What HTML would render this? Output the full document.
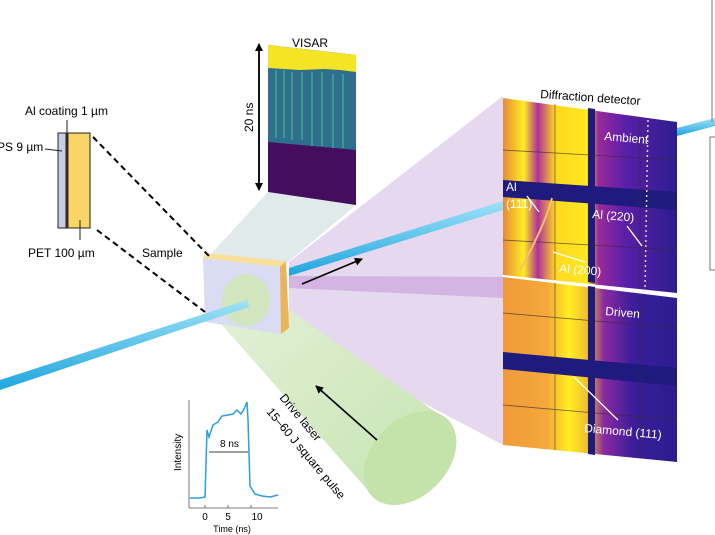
<!DOCTYPE html>
<html><head><meta charset="utf-8"><style>
html,body{margin:0;padding:0;background:#fff}
svg{display:block}
text{font-family:"Liberation Sans",sans-serif}
</style></head><body>
<svg width="715" height="535" viewBox="0 0 715 535" xmlns="http://www.w3.org/2000/svg">
<defs>
<linearGradient id="cyl" x1="0" y1="0" x2="1" y2="1"><stop offset="0" stop-color="#e3f1d8"/><stop offset="1" stop-color="#c6e3b0"/></linearGradient>
<linearGradient id="pA" x1="0" y1="0" x2="1" y2="0">
<stop offset="0" stop-color="#e58a3a"/><stop offset="0.12" stop-color="#ffee20"/><stop offset="0.2" stop-color="#b0309a"/><stop offset="0.3" stop-color="#ffd820"/><stop offset="0.48" stop-color="#ffe820"/><stop offset="0.55" stop-color="#9a2a9a"/><stop offset="0.7" stop-color="#5a1fa8"/><stop offset="1" stop-color="#2b1d8f"/></linearGradient>
<linearGradient id="pB" x1="0" y1="0" x2="1" y2="0">
<stop offset="0" stop-color="#f09a3a"/><stop offset="0.25" stop-color="#f4a83a"/><stop offset="0.38" stop-color="#ffee20"/><stop offset="0.48" stop-color="#f0c030"/><stop offset="0.58" stop-color="#8a2aa0"/><stop offset="0.75" stop-color="#3a1d9a"/><stop offset="1" stop-color="#2b1d8f"/></linearGradient>
<linearGradient id="beam" x1="0" y1="0" x2="0" y2="1"><stop offset="0" stop-color="#9fe2f7"/><stop offset="1" stop-color="#1ea6de"/></linearGradient>
<marker id="ah" markerWidth="8" markerHeight="8" refX="7" refY="4" orient="auto" markerUnits="userSpaceOnUse"><path d="M0,0 L8,4 L0,8z" fill="#000"/></marker>
</defs>

<polygon points="268,192 356,205 288,262 210,255" fill="#dbe6e6" opacity="0.85"/>
<polygon points="289,262 503,96 503,445 289,332" fill="#e6d8ee"/>
<polygon points="289,276 503,277 503,298 289,288" fill="#d4b4e2"/>

<polygon points="258,288 447,420 373,496 222,325" fill="url(#cyl)"/>
<ellipse cx="410" cy="458" rx="38" ry="54" transform="rotate(44 410 458)" fill="#c4e3ab"/>
<polygon points="203,258 280,267 281,334 205,322" fill="#d9dcf2"/>
<ellipse cx="246" cy="300" rx="24" ry="26" fill="#cfe6b8" opacity="0.9"/>
<polygon points="0,380 247,300 249,307 0,390" fill="url(#beam)"/>
<polygon points="203,258 205,253 286,261 280,267" fill="#f8e09a"/>
<polygon points="280,267 286,261 289,328 281,334" fill="#e9b45a"/>
<polygon points="289,268 503,201 503,210 289,276" fill="url(#beam)"/>
<polygon points="677,128 715,118 715,126 677,136" fill="url(#beam)"/>
<line x1="302" y1="284" x2="362" y2="259" stroke="#000" stroke-width="1.6" marker-end="url(#ah)"/>
<line x1="377" y1="440" x2="316" y2="386" stroke="#000" stroke-width="1.6" marker-end="url(#ah)"/>

<polygon points="268,45 356,55 356,205 268,192" fill="#440d5e"/>
<polygon points="268,60 356,66 356,150 268,142" fill="#2f6f8e"/>
<g stroke="#3fae8c" stroke-width="2" opacity="0.7">
<line x1="276" y1="70" x2="276" y2="138"/><line x1="284" y1="70" x2="284" y2="138"/><line x1="292" y1="72" x2="292" y2="140"/><line x1="302" y1="72" x2="302" y2="140"/><line x1="312" y1="72" x2="312" y2="146"/><line x1="322" y1="72" x2="322" y2="146"/><line x1="333" y1="74" x2="333" y2="148"/><line x1="343" y1="74" x2="343" y2="148"/></g>
<polygon points="268,45 356,55 356,72 340,70 325,69 300,70 268,68" fill="#f4e424"/>
<line x1="259" y1="46" x2="259" y2="190" stroke="#000" stroke-width="1.6" marker-end="url(#ah)"/>
<line x1="259" y1="188" x2="259" y2="44" stroke="#000" stroke-width="1.6" marker-end="url(#ah)"/>
<text x="292" y="47" font-size="12">VISAR</text>
<text transform="translate(253,132) rotate(-90)" font-size="12">20 ns</text>

<rect x="58" y="133" width="32" height="95" fill="#f9d466" stroke="#222" stroke-width="1"/>
<rect x="58" y="133" width="8" height="95" fill="#c9cbe8" stroke="#222" stroke-width="1"/>
<rect x="66" y="133" width="2.5" height="95" fill="#3a2a1a"/>
<line x1="67" y1="120" x2="67" y2="143" stroke="#222"/>
<line x1="45" y1="149" x2="62" y2="151" stroke="#222"/>
<line x1="80" y1="220" x2="80" y2="240" stroke="#222"/>
<text x="25" y="115" font-size="12">Al coating 1 µm</text>
<text x="-3" y="151" font-size="12">PS 9 µm</text>
<text x="28" y="257" font-size="12">PET 100 µm</text>
<text x="142" y="257" font-size="12">Sample</text>
<line x1="93" y1="137" x2="210" y2="257" stroke="#000" stroke-width="2" stroke-dasharray="6,4"/>
<line x1="97" y1="230" x2="205" y2="312" stroke="#000" stroke-width="2" stroke-dasharray="6,4"/>

<polygon points="503,98 677,122 677,293 503,275" fill="url(#pA)"/>
<polygon points="503,180 677,192 677,210 503,197" fill="#1e1a7e"/>
<polygon points="588,108 595,109 595,283 588,282" fill="#1e1a7e"/>
<g stroke="#3a2a30" stroke-width="0.8" opacity="0.7"><line x1="555" y1="104" x2="555" y2="280"/><line x1="503" y1="150" x2="677" y2="160"/><line x1="503" y1="240" x2="677" y2="250"/><line x1="640" y1="117" x2="640" y2="289"/></g>
<path d="M520,270 Q545,225 552,198" stroke="#f5c070" stroke-width="2" fill="none"/>
<path d="M648,120 L645,290" stroke="#f0d0a0" stroke-width="1.5" stroke-dasharray="2,3" fill="none"/>
<polygon points="503,277 677,298 677,462 503,445" fill="url(#pB)"/>
<polygon points="503,352 677,368 677,386 503,369" fill="#1e1a7e"/>
<polygon points="588,286 595,287 595,455 588,454" fill="#1e1a7e"/>
<g stroke="#3a2a30" stroke-width="0.8" opacity="0.7"><line x1="555" y1="283" x2="555" y2="450"/><line x1="503" y1="313" x2="677" y2="328"/><line x1="503" y1="405" x2="677" y2="420"/><line x1="640" y1="294" x2="640" y2="458"/></g>
<g stroke="#fff" stroke-width="1.3"><line x1="527" y1="196" x2="539" y2="212"/><line x1="627" y1="226" x2="642" y2="246"/><line x1="553" y1="252" x2="585" y2="262"/><line x1="574" y1="377" x2="618" y2="420"/></g>
<g fill="#fff" font-size="12">
<text x="604" y="140" transform="rotate(5 604 140)">Ambient</text>
<text x="506" y="191">Al</text><text x="506" y="208">(111)</text>
<text x="592" y="218" transform="rotate(5 592 218)">Al (220)</text>
<text x="559" y="272" transform="rotate(5 559 272)">Al (200)</text>
<text x="605" y="315" transform="rotate(5 605 315)">Driven</text>
<text x="584" y="432" transform="rotate(5 584 432)">Diamond (111)</text>
</g>
<text x="540" y="98" font-size="12" transform="rotate(4 540 98)">Diffraction detector</text>
<line x1="712" y1="0" x2="712" y2="122" stroke="#777" stroke-width="1"/>
<rect x="710" y="137" width="8" height="133" fill="none" stroke="#777" stroke-width="1"/>

<text x="0" y="0" font-size="12" transform="translate(279,398) rotate(50)">Drive laser</text>
<text x="0" y="0" font-size="12" transform="translate(266,412) rotate(50)">15–60 J square pulse</text>

<line x1="189" y1="400" x2="189" y2="508" stroke="#555" stroke-width="0.8"/>
<line x1="189" y1="508" x2="278" y2="508" stroke="#555" stroke-width="0.8"/>
<g stroke="#555" stroke-width="0.8"><line x1="205" y1="508" x2="205" y2="505"/><line x1="228" y1="508" x2="228" y2="505"/><line x1="251" y1="508" x2="251" y2="505"/></g>
<polyline points="190,498 200,498 205,497 207,430 209,437 213,425 218,422 222,416 228,415 233,414 237,410 241,414 244,409 247,402 248,420 250,486 255,494 262,496 270,497 278,495" fill="none" stroke="#2a9ee0" stroke-width="1.5"/>
<line x1="209" y1="452" x2="248" y2="452" stroke="#000" stroke-width="0.8"/>
<text x="220" y="447" font-size="10">8 ns</text>
<g font-size="10" text-anchor="middle"><text x="205" y="520">0</text><text x="228" y="520">5</text><text x="257" y="520">10</text><text x="232" y="532" font-size="9">Time (ns)</text></g>
<text transform="translate(181,471) rotate(-90)" font-size="10">Intensity</text>
</svg>
</body></html>
